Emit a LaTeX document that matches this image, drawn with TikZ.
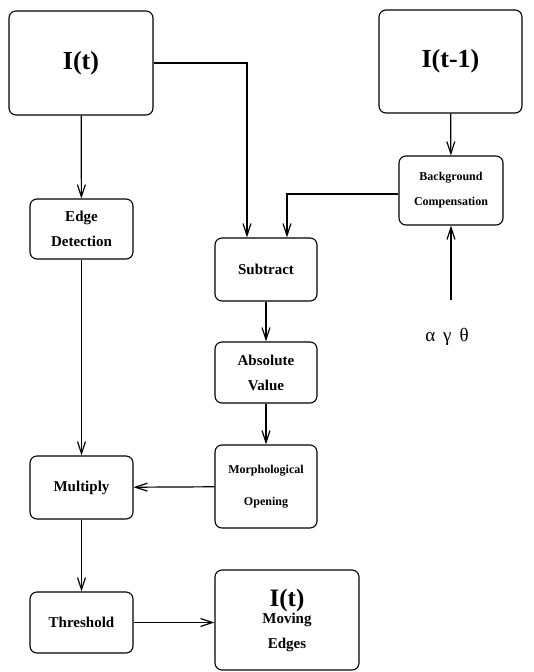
\documentclass[tikz,border=0pt]{standalone}
\usepackage{fontspec}
\setmainfont{Liberation Serif}
\usetikzlibrary{arrows.meta,calc}
\tikzset{
  blk/.style={rectangle,draw,rounded corners=7pt,line width=1.1pt,inner sep=0pt,align=center,
    font=\bfseries\fontsize{15}{25}\selectfont},
  frame/.style={blk,minimum width=144pt,minimum height=104pt,font=\bfseries\fontsize{26}{30}\selectfont},
  flow/.style={line width=1.2pt,-{Straight Barb[length=12pt,width=8pt,line width=1.2pt]}}
}
\begin{document}
\begin{tikzpicture}[x=1pt,y=-1pt]
        \useasboundingbox (0,0) rectangle (533,672);
        \node[frame] (It) at (81,63) {I(t)};
        \node[frame,minimum width=143pt,minimum height=103pt] (Itm) at (450.5,61.5) {I(t-1)};
        \node[blk,minimum width=104pt,minimum height=69pt,font=\bfseries\fontsize{12}{25}\selectfont] (bgc) at (451,190.5) {Background\\Compensation};
        \node[blk,minimum width=103pt,minimum height=60pt] (edge) at (81.5,229) {Edge\\Detection};
        \node[blk,minimum width=102pt,minimum height=63pt] (sub) at (266,269.5) {Subtract};
        \node[blk,minimum width=102pt,minimum height=61pt] (abs) at (266,372.5) {Absolute\\Value};
        \node[blk,minimum width=102pt,minimum height=83pt,font=\bfseries\fontsize{12}{32}\selectfont] (morph) at (266,486.5) {Morphological\\Opening};
        \node[blk,minimum width=103pt,minimum height=63pt] (mult) at (81.5,487.5) {Multiply};
        \node[blk,minimum width=103pt,minimum height=61pt] (thr) at (81.5,622.5) {Threshold};
        \node[blk,minimum width=144pt,minimum height=100pt] (mov) at (287,620) {{\fontsize{25}{25}\selectfont I(t)}\\[-8pt]Moving\\Edges};
        \node[font=\fontsize{19}{19}\selectfont] (par) at (447,337) {α\hspace{8pt}γ\hspace{8pt}θ};
        \coordinate (pin) at (451,300);
        \draw[flow] (It) -- (edge);
        \draw[flow] (It.east) -| ([xshift=-19pt]sub.north);
        \draw[flow] (Itm) -- (bgc);
        \draw[flow] ([yshift=-3.5pt]bgc.west) -| ([xshift=21pt]sub.north);
        \draw[flow] (pin) -- (bgc.south);
        \draw[flow] (sub) -- (abs);
        \draw[flow] (abs) -- (morph);
        \draw[flow] (morph) -- (mult);
        \draw[flow] (edge) -- (mult);
        \draw[flow] (mult) -- (thr);
        \draw[flow] (thr.east) -- (thr.east -| mov.west);
    \end{tikzpicture}
\end{document}
